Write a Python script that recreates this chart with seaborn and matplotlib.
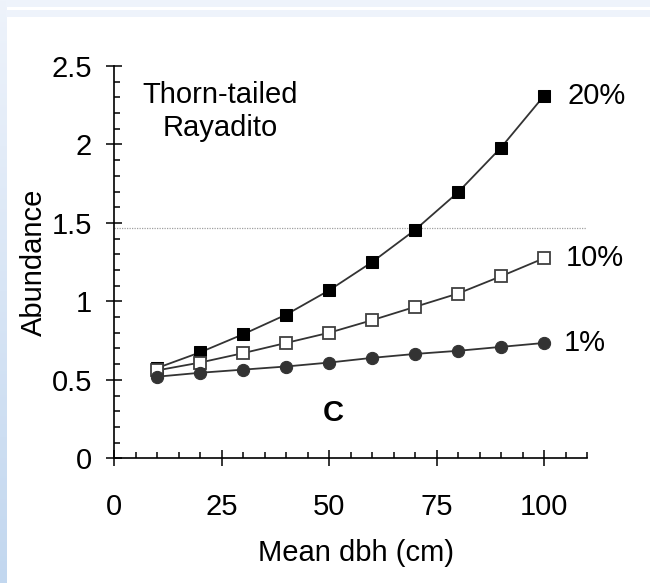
import numpy as np
import pandas as pd
import matplotlib
matplotlib.use("Agg")
import matplotlib.pyplot as plt
from matplotlib.patches import Rectangle
from matplotlib.ticker import FixedLocator, MultipleLocator
import seaborn as sns

# ---- data ----
dbh = [10, 20, 30, 40, 50, 60, 70, 80, 90, 100]
abund_20 = [0.575, 0.675, 0.79, 0.915, 1.07, 1.25, 1.455, 1.695, 1.98, 2.31]
abund_10 = [0.56, 0.61, 0.67, 0.735, 0.80, 0.88, 0.965, 1.05, 1.16, 1.275]
abund_1 = [0.52, 0.545, 0.565, 0.585, 0.61, 0.64, 0.665, 0.685, 0.71, 0.735]
series_labels = ["20%", "10%", "1%"]
threshold = 1.47
x_ticks = [0, 25, 50, 75, 100]
x_tick_labels = ["0", "25", "50", "75", "100"]
y_ticks = [0, 0.5, 1, 1.5, 2, 2.5]
y_tick_labels = ["0", "0.5", "1", "1.5", "2", "2.5"]

sns.set_theme(style="white")
plt.rcParams["font.family"] = ["Liberation Sans", "DejaVu Sans"]

W, H = 650, 583
fig = plt.figure(figsize=(W / 100, H / 100), dpi=100)
fig.patch.set_facecolor("white")

# decorative slide border (light blue)
grad_ax = fig.add_axes([0, 0, 6 / W, 1])
grad = np.linspace(0, 1, 256).reshape(-1, 1)
from matplotlib.colors import LinearSegmentedColormap
cmap = LinearSegmentedColormap.from_list("bl", ["#eef3fb", "#c2d7ef"])
grad_ax.imshow(grad, aspect="auto", cmap=cmap, origin="upper")
grad_ax.axis("off")
fig.add_artist(Rectangle((6 / W, 1 - 7 / H), 1, 7 / H, transform=fig.transFigure,
                         facecolor="#eef3fb", edgecolor="none"))
fig.add_artist(Rectangle((6 / W, 1 - 17 / H), 1, 7 / H, transform=fig.transFigure,
                         facecolor="#eef3fb", edgecolor="none"))

x0, x1 = 114, 587
y0, y1 = 458.3, 66
ax = fig.add_axes([x0 / W, 1 - y0 / H, (x1 - x0) / W, (y0 - y1) / H])
ax.set_facecolor("none")

df = pd.DataFrame({
    "dbh": dbh * 3,
    "Abundance": abund_20 + abund_10 + abund_1,
    "Series": [series_labels[0]] * len(dbh) + [series_labels[1]] * len(dbh) + [series_labels[2]] * len(dbh),
})

ax.axhline(threshold, xmin=0, xmax=1, color="#a0a0a0", lw=0.9, ls=(0, (1, 1)), zorder=1)

styles = {
    "20%": dict(marker="s", markerfacecolor="black", markeredgecolor="black", markersize=8.5),
    "10%": dict(marker="s", markerfacecolor="white", markeredgecolor="#404040", markersize=8.0,
                markeredgewidth=1.3),
    "1%": dict(marker="o", markerfacecolor="#333333", markeredgecolor="#333333", markersize=8.8),
}
for i, s in enumerate(series_labels):
    sub = df[df["Series"] == s]
    sns.lineplot(data=sub, x="dbh", y="Abundance", ax=ax, color="#333333", lw=1.3,
                 legend=False, zorder=3 + i, **styles[s])

ax.set_xlim(0, 110)
ax.set_ylim(0, 2.5)
for sp in ["top", "right"]:
    ax.spines[sp].set_visible(False)
for sp in ["left", "bottom"]:
    ax.spines[sp].set_color("black")
    ax.spines[sp].set_linewidth(1.2)

ax.xaxis.set_major_locator(FixedLocator(x_ticks))
ax.set_xticklabels(x_tick_labels)
ax.yaxis.set_major_locator(FixedLocator(y_ticks))
ax.set_yticklabels(y_tick_labels)
ax.xaxis.set_minor_locator(MultipleLocator(5))
ax.yaxis.set_minor_locator(MultipleLocator(0.1))
ax.tick_params(which="major", direction="inout", length=11.5, width=1.1, color="black",
               labelsize=21, labelcolor="black")
ax.tick_params(axis="x", which="major", pad=19)
ax.tick_params(axis="y", which="major", pad=10)
ax.tick_params(which="minor", direction="in", length=4.5, width=1.1, color="black")
ax.tick_params(bottom=True, left=True, which="both")

ax.set_xlabel("Mean dbh (cm)", fontsize=21, color="black")
ax.set_ylabel("Abundance", fontsize=21, color="black")
ax.xaxis.set_label_coords(0.512, -0.205)
ax.yaxis.set_label_coords(-0.14, 0.5)

# annotations
ax.text(24.6, 2.21, "Thorn-tailed\nRayadito", ha="center", va="center", fontsize=21,
        linespacing=1.2, color="black")
ax.text(51, 0.29, "C", ha="center", va="center", fontsize=21, fontweight="bold", color="black")
ax.text(105.5, abund_20[-1], series_labels[0], ha="left", va="center", fontsize=21, color="black")
ax.text(105.0, abund_10[-1], series_labels[1], ha="left", va="center", fontsize=21, color="black")
ax.text(104.5, abund_1[-1], series_labels[2], ha="left", va="center", fontsize=21, color="black")

fig.savefig("out.png", dpi=100)
